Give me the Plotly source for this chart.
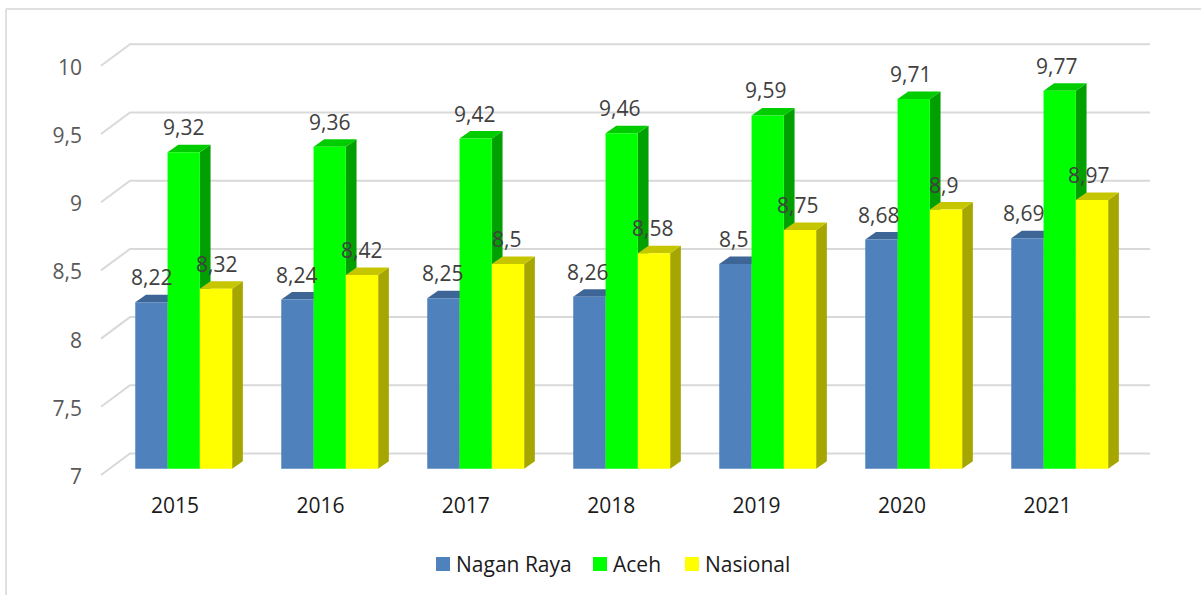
import plotly.graph_objects as go

years = ["2015", "2016", "2017", "2018", "2019", "2020", "2021"]
nagan_raya = [8.22, 8.24, 8.25, 8.26, 8.5, 8.68, 8.69]
aceh = [9.32, 9.36, 9.42, 9.46, 9.59, 9.71, 9.77]
nasional = [8.32, 8.42, 8.5, 8.58, 8.75, 8.9, 8.97]
y_ticks = [7, 7.5, 8, 8.5, 9, 9.5, 10]

series = [
    ("Nagan Raya", nagan_raya, "#4F81BD", "#3D6696", "#3D6696"),
    ("Aceh", aceh, "#00FF00", "#00CC00", "#00A000"),
    ("Nasional", nasional, "#FFFF00", "#C6C600", "#A6A600"),
]

W, H = 1201, 595
L, R, T, B = 83, 1165, 30, 485
X0_PX, PERIOD = 183.7, 146.0
Y7_PX, UNIT = 468.7, 136.4
BAR_PX, DX_PX, DY_PX = 32.3, 10.7, 7.5
GRID = "#D9D9D9"
FONT = "Open Sans"
LEGEND_SWATCH_PX = [436, 593, 685]
LEGEND_TEXT_PX = [456, 613, 705]
LEGEND_Y_PX = 564


def xd(px):
    return (px - X0_PX) / PERIOD


def dy(px):
    return px / UNIT


def paper_x(px):
    return (px - L) / (R - L)


def paper_y(px):
    return (B - px) / (B - T)


bw = BAR_PX / PERIOD
ddx = DX_PX / PERIOD
ddy = dy(DY_PX)
shapes = []

# back wall gridlines and their left-hand diagonals
for t in y_ticks:
    back = t + dy(15.2)
    front = t - dy(6.3)
    shapes.append(dict(type="path", layer="below", xref="x", yref="y",
                       path=f"M{xd(101)},{front}L{xd(130)},{back}L{xd(1150)},{back}",
                       line=dict(color=GRID, width=2)))

# depth faces of the bars
for s, (_, vals, _, top_c, side_c) in enumerate(series):
    for i, v in enumerate(vals):
        x0 = i + (s - 1.5) * bw
        x1 = x0 + bw
        shapes.append(dict(type="path", layer="below", xref="x", yref="y",
                           path=f"M{x1},7L{x1+ddx},{7+ddy}L{x1+ddx},{v+ddy}L{x1},{v}Z",
                           fillcolor=side_c, line=dict(width=0)))
        shapes.append(dict(type="path", layer="below", xref="x", yref="y",
                           path=f"M{x0},{v}L{x0+ddx},{v+ddy}L{x1+ddx},{v+ddy}L{x1},{v}Z",
                           fillcolor=top_c, line=dict(width=0)))

# chart frame
shapes.append(dict(type="line", xref="paper", yref="paper", layer="below",
                   x0=paper_x(6), x1=paper_x(W), y0=paper_y(9), y1=paper_y(9),
                   line=dict(color="#E0E0E0", width=2)))
shapes.append(dict(type="line", xref="paper", yref="paper", layer="below",
                   x0=paper_x(6), x1=paper_x(6), y0=paper_y(9), y1=paper_y(H),
                   line=dict(color="#E0E0E0", width=2)))

fig = go.Figure()
annotations = []
LABEL_SCALE = 145.4 / PERIOD
for s, (name, vals, color, _, _) in enumerate(series):
    fig.add_trace(go.Bar(
        name=name,
        x=list(range(len(years))),
        y=[v - 7 for v in vals],
        base=7,
        marker=dict(color=color, line=dict(width=0)),
        hovertemplate="%{customdata}<extra>" + name + "</extra>",
        customdata=vals,
        showlegend=False,
    ))
    for i, v in enumerate(vals):
        annotations.append(dict(
            x=i * LABEL_SCALE + (s - 1) * bw, y=v, xref="x", yref="y",
            text=str(v).replace(".", ","), showarrow=False,
            yanchor="middle", yshift=25,
            font=dict(family=FONT, size=21, color="#404040"),
        ))
    # legend key
    sx = LEGEND_SWATCH_PX[s]
    shapes.append(dict(type="rect", xref="paper", yref="paper",
                       x0=paper_x(sx), x1=paper_x(sx + 14),
                       y0=paper_y(LEGEND_Y_PX + 7), y1=paper_y(LEGEND_Y_PX - 7),
                       fillcolor=color, line=dict(width=0)))
    annotations.append(dict(
        x=paper_x(LEGEND_TEXT_PX[s]), y=paper_y(LEGEND_Y_PX), xref="paper", yref="paper",
        text=name, showarrow=False, xanchor="left", yanchor="middle", xshift=-2,
        font=dict(family=FONT, size=21, color="#1A1A1A"),
    ))

fig.update_layout(
    width=W, height=H,
    margin=dict(l=L, r=W - R, t=T, b=H - B, autoexpand=False),
    paper_bgcolor="white", plot_bgcolor="rgba(0,0,0,0)",
    barmode="group", bargap=1 - 3 * bw, bargroupgap=0,
    showlegend=False,
    shapes=shapes, annotations=annotations,
    xaxis=dict(range=[xd(L), xd(R)], showgrid=False, zeroline=False, showline=False,
               tickmode="array",
               tickvals=[(175 + 145.4 * i - X0_PX) / PERIOD for i in range(len(years))],
               ticktext=years, ticks="", fixedrange=True, ticklabelstandoff=6,
               tickfont=dict(family=FONT, size=21, color="#1A1A1A")),
    yaxis=dict(range=[7 - (B - Y7_PX) / UNIT, 7 + (Y7_PX - T) / UNIT],
               showgrid=False, zeroline=False, showline=False,
               tickmode="array", tickvals=y_ticks, ticks="", fixedrange=True,
               ticktext=[str(t).replace(".", ",").replace(",0", "") for t in y_ticks],
               ticklabelshift=8,
               tickfont=dict(family=FONT, size=21, color="#595959")),
)

fig.write_html("out.html", config={"displayModeBar": False},
               post_script="document.body.style.margin='0';")
